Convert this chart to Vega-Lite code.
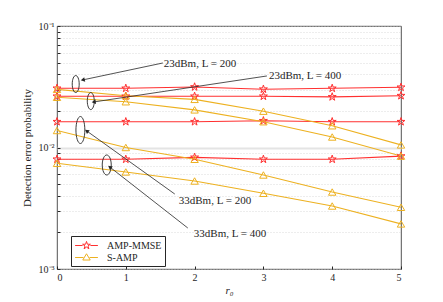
{
  "$schema": "https://vega.github.io/schema/vega-lite/v6.json",
  "width": 344,
  "height": 243,
  "autosize": {"type": "none"},
  "padding": {"left": 57, "top": 26, "right": 42, "bottom": 33},
  "config": {
    "font": "Liberation Serif",
    "view": {"stroke": "#262626", "strokeWidth": 0.8},
    "axis": {"labelFont": "Liberation Serif", "titleFont": "Liberation Serif", "labelColor": "#262626", "titleColor": "#262626", "domain": false, "tickColor": "#262626"},
    "legend": {"orient": "none", "legendX": 14, "legendY": 210, "title": null, "strokeColor": "#262626", "fillColor": "white", "padding": 3, "labelFont": "Liberation Serif", "labelFontSize": 10, "labelColor": "#262626", "symbolSize": 144, "symbolOffset": 6, "symbolStrokeWidth": 1, "rowPadding": 0, "labelOffset": 14}
  },
  "datasets": {
    "curves": [
      {"r0": 0, "p": 0.0307, "method": "AMP-MMSE", "series": "A1"},
      {"r0": 1, "p": 0.0307, "method": "AMP-MMSE", "series": "A1"},
      {"r0": 2, "p": 0.0315, "method": "AMP-MMSE", "series": "A1"},
      {"r0": 3, "p": 0.0302, "method": "AMP-MMSE", "series": "A1"},
      {"r0": 4, "p": 0.0307, "method": "AMP-MMSE", "series": "A1"},
      {"r0": 5, "p": 0.0313, "method": "AMP-MMSE", "series": "A1"},
      {"r0": 0, "p": 0.0264, "method": "AMP-MMSE", "series": "A2"},
      {"r0": 1, "p": 0.0264, "method": "AMP-MMSE", "series": "A2"},
      {"r0": 2, "p": 0.0264, "method": "AMP-MMSE", "series": "A2"},
      {"r0": 3, "p": 0.0264, "method": "AMP-MMSE", "series": "A2"},
      {"r0": 4, "p": 0.0261, "method": "AMP-MMSE", "series": "A2"},
      {"r0": 5, "p": 0.0267, "method": "AMP-MMSE", "series": "A2"},
      {"r0": 0, "p": 0.0163, "method": "AMP-MMSE", "series": "A3"},
      {"r0": 1, "p": 0.0163, "method": "AMP-MMSE", "series": "A3"},
      {"r0": 2, "p": 0.0163, "method": "AMP-MMSE", "series": "A3"},
      {"r0": 3, "p": 0.0166, "method": "AMP-MMSE", "series": "A3"},
      {"r0": 4, "p": 0.0163, "method": "AMP-MMSE", "series": "A3"},
      {"r0": 5, "p": 0.0163, "method": "AMP-MMSE", "series": "A3"},
      {"r0": 0, "p": 0.0080, "method": "AMP-MMSE", "series": "A4"},
      {"r0": 1, "p": 0.0080, "method": "AMP-MMSE", "series": "A4"},
      {"r0": 2, "p": 0.0083, "method": "AMP-MMSE", "series": "A4"},
      {"r0": 3, "p": 0.0080, "method": "AMP-MMSE", "series": "A4"},
      {"r0": 4, "p": 0.0080, "method": "AMP-MMSE", "series": "A4"},
      {"r0": 5, "p": 0.0085, "method": "AMP-MMSE", "series": "A4"},
      {"r0": 0, "p": 0.0301, "method": "S-AMP", "series": "S1"},
      {"r0": 1, "p": 0.0267, "method": "S-AMP", "series": "S1"},
      {"r0": 2, "p": 0.0249, "method": "S-AMP", "series": "S1"},
      {"r0": 3, "p": 0.0199, "method": "S-AMP", "series": "S1"},
      {"r0": 4, "p": 0.0151, "method": "S-AMP", "series": "S1"},
      {"r0": 5, "p": 0.0105, "method": "S-AMP", "series": "S1"},
      {"r0": 0, "p": 0.0259, "method": "S-AMP", "series": "S2"},
      {"r0": 1, "p": 0.0238, "method": "S-AMP", "series": "S2"},
      {"r0": 2, "p": 0.0204, "method": "S-AMP", "series": "S2"},
      {"r0": 3, "p": 0.0163, "method": "S-AMP", "series": "S2"},
      {"r0": 4, "p": 0.0122, "method": "S-AMP", "series": "S2"},
      {"r0": 5, "p": 0.0085, "method": "S-AMP", "series": "S2"},
      {"r0": 0, "p": 0.0138, "method": "S-AMP", "series": "S3"},
      {"r0": 1, "p": 0.0100, "method": "S-AMP", "series": "S3"},
      {"r0": 2, "p": 0.0080, "method": "S-AMP", "series": "S3"},
      {"r0": 3, "p": 0.00594, "method": "S-AMP", "series": "S3"},
      {"r0": 4, "p": 0.0043, "method": "S-AMP", "series": "S3"},
      {"r0": 5, "p": 0.00322, "method": "S-AMP", "series": "S3"},
      {"r0": 0, "p": 0.00741, "method": "S-AMP", "series": "S4"},
      {"r0": 1, "p": 0.00629, "method": "S-AMP", "series": "S4"},
      {"r0": 2, "p": 0.0053, "method": "S-AMP", "series": "S4"},
      {"r0": 3, "p": 0.0042, "method": "S-AMP", "series": "S4"},
      {"r0": 4, "p": 0.0033, "method": "S-AMP", "series": "S4"},
      {"r0": 5, "p": 0.00235, "method": "S-AMP", "series": "S4"}
    ],
    "labels": [
      {"label": "23dBm, L = 200", "r0": 1.552, "p": 0.0487},
      {"label": "23dBm, L = 400", "r0": 3.08, "p": 0.0388},
      {"label": "33dBm, L = 200", "r0": 1.77, "p": 0.00363},
      {"label": "33dBm, L = 400", "r0": 1.989, "p": 0.00194}
    ],
    "ellipses": [
      {"id": "E1", "kind": "small", "r0": 0.272, "p": 0.0333},
      {"id": "E2", "kind": "small", "r0": 0.491, "p": 0.0241},
      {"id": "E3", "kind": "large", "r0": 0.34, "p": 0.01393},
      {"id": "E4", "kind": "medium", "r0": 0.723, "p": 0.00718}
    ],
    "arrows": [
      {"id": "A1", "r0": 1.538, "p": 0.0496, "r0_end": 0.374, "p_end": 0.036},
      {"id": "A2", "r0": 3.051, "p": 0.0388, "r0_end": 0.534, "p_end": 0.0237},
      {"id": "A3", "r0": 1.712, "p": 0.00414, "r0_end": 0.432, "p_end": 0.01368},
      {"id": "A4", "r0": 1.901, "p": 0.002175, "r0_end": 0.767, "p_end": 0.00691}
    ]
  },
  "layer": [
    {
      "data": {"name": "curves"},
      "mark": {"type": "line", "strokeWidth": 1.1, "clip": true},
      "encoding": {
        "x": {"field": "r0", "type": "quantitative", "scale": {"domain": [0, 5], "nice": false, "zero": false},
          "axis": {"values": [0, 0.5, 1, 1.5, 2, 2.5, 3, 3.5, 4, 4.5, 5], "format": "~g", "grid": false, "tickSize": -3, "labelFontSize": 10, "labelPadding": 6, "title": "r₀", "titleFontSize": 11, "titleFontStyle": "italic", "titleFontWeight": "normal", "titlePadding": 2}},
        "y": {"field": "p", "type": "quantitative", "scale": {"type": "log", "domain": [0.001, 0.1], "nice": false},
          "axis": {"values": [0.001, 0.002, 0.003, 0.004, 0.005, 0.006, 0.007, 0.008, 0.009, 0.01, 0.02, 0.03, 0.04, 0.05, 0.06, 0.07, 0.08, 0.09, 0.1],
            "labelExpr": "datum.value == 0.1 ? '10⁻¹' : datum.value == 0.01 ? '10⁻²' : datum.value == 0.001 ? '10⁻³' : ''",
            "labelFontSize": 10, "labelPadding": 6, "tickSize": -3,
            "grid": true, "gridColor": {"condition": {"test": "datum.value == 0.01", "value": "#e4e4e4"}, "value": "#cccccc"},
            "gridDash": {"condition": {"test": "datum.value == 0.01", "value": []}, "value": [1, 2]},
            "gridWidth": {"condition": {"test": "datum.value == 0.01", "value": 2}, "value": 0.7},
            "title": "Detection error probability", "titleFontSize": 11, "titleFontWeight": "normal", "titlePadding": 6}},
        "color": {"field": "method", "type": "nominal", "scale": {"domain": ["AMP-MMSE", "S-AMP"], "range": ["#ff3030", "#edb120"]},
          "legend": {"encode": {"symbols": {"update": {"shape": {"signal": "datum.value == 'AMP-MMSE' ? 'M-1.9,0L-0.65,0M0.65,0L1.9,0M0,-0.68L0.153,-0.21L0.647,-0.21L0.247,0.08L0.4,0.55L0,0.26L-0.4,0.55L-0.247,0.08L-0.647,-0.21L-0.153,-0.21Z' : 'M-1.9,0L-0.5,0M0.5,0L1.9,0M0,-0.62L0.62,0.42L-0.62,0.42Z'"}, "fill": {"value": "transparent"}}}}}},
        "detail": {"field": "series"}
      }
    },
    {
      "data": {"name": "curves"},
      "transform": [{"filter": "datum.method == 'AMP-MMSE'"}],
      "mark": {"type": "point", "filled": false, "strokeWidth": 1, "size": 70, "opacity": 1, "color": "#ff3030", "shape": "M0,-1L0.2245,-0.309L0.951,-0.309L0.363,0.118L0.588,0.809L0,0.382L-0.588,0.809L-0.363,0.118L-0.951,-0.309L-0.2245,-0.309Z"},
      "encoding": {
        "x": {"field": "r0", "type": "quantitative"},
        "y": {"field": "p", "type": "quantitative"}
      }
    },
    {
      "data": {"name": "curves"},
      "transform": [{"filter": "datum.method == 'S-AMP'"}],
      "mark": {"type": "point", "filled": false, "strokeWidth": 1, "size": 55, "opacity": 1, "color": "#edb120", "shape": "triangle-up"},
      "encoding": {
        "x": {"field": "r0", "type": "quantitative"},
        "y": {"field": "p", "type": "quantitative"}
      }
    },
    {
      "data": {"name": "arrows"},
      "mark": {"type": "rule", "color": "#262626", "strokeWidth": 0.8},
      "encoding": {
        "x": {"field": "r0", "type": "quantitative"},
        "y": {"field": "p", "type": "quantitative"},
        "x2": {"field": "r0_end"},
        "y2": {"field": "p_end"}
      }
    },
    {
      "data": {"name": "arrows"},
      "transform": [{"filter": "datum.id == 'A1'"}],
      "mark": {"type": "point", "shape": "triangle-up", "filled": true, "color": "#262626", "size": 22, "angle": 258, "opacity": 1},
      "encoding": {"x": {"field": "r0_end", "type": "quantitative"}, "y": {"field": "p_end", "type": "quantitative"}}
    },
    {
      "data": {"name": "arrows"},
      "transform": [{"filter": "datum.id == 'A2'"}],
      "mark": {"type": "point", "shape": "triangle-up", "filled": true, "color": "#262626", "size": 22, "angle": 261.5, "opacity": 1},
      "encoding": {"x": {"field": "r0_end", "type": "quantitative"}, "y": {"field": "p_end", "type": "quantitative"}}
    },
    {
      "data": {"name": "arrows"},
      "transform": [{"filter": "datum.id == 'A3'"}],
      "mark": {"type": "point", "shape": "triangle-up", "filled": true, "color": "#262626", "size": 22, "angle": 305.6, "opacity": 1},
      "encoding": {"x": {"field": "r0_end", "type": "quantitative"}, "y": {"field": "p_end", "type": "quantitative"}}
    },
    {
      "data": {"name": "arrows"},
      "transform": [{"filter": "datum.id == 'A4'"}],
      "mark": {"type": "point", "shape": "triangle-up", "filled": true, "color": "#262626", "size": 22, "angle": 308, "opacity": 1},
      "encoding": {"x": {"field": "r0_end", "type": "quantitative"}, "y": {"field": "p_end", "type": "quantitative"}}
    },
    {
      "data": {"name": "ellipses"},
      "transform": [{"filter": "datum.kind == 'small'"}],
      "mark": {"type": "point", "shape": "M-0.41,0A0.41,1 0 1,0 0.41,0A0.41,1 0 1,0 -0.41,0Z", "filled": false, "color": "#262626", "strokeWidth": 0.9, "size": 289, "opacity": 1},
      "encoding": {"x": {"field": "r0", "type": "quantitative"}, "y": {"field": "p", "type": "quantitative"}}
    },
    {
      "data": {"name": "ellipses"},
      "transform": [{"filter": "datum.kind == 'large'"}],
      "mark": {"type": "point", "shape": "M-0.33,0A0.33,1 0 1,0 0.33,0A0.33,1 0 1,0 -0.33,0Z", "filled": false, "color": "#262626", "strokeWidth": 0.9, "size": 729, "opacity": 1},
      "encoding": {"x": {"field": "r0", "type": "quantitative"}, "y": {"field": "p", "type": "quantitative"}}
    },
    {
      "data": {"name": "ellipses"},
      "transform": [{"filter": "datum.kind == 'medium'"}],
      "mark": {"type": "point", "shape": "M-0.45,0A0.45,1 0 1,0 0.45,0A0.45,1 0 1,0 -0.45,0Z", "filled": false, "color": "#262626", "strokeWidth": 0.9, "size": 400, "opacity": 1},
      "encoding": {"x": {"field": "r0", "type": "quantitative"}, "y": {"field": "p", "type": "quantitative"}}
    },
    {
      "data": {"name": "labels"},
      "mark": {"type": "text", "align": "left", "baseline": "middle", "font": "Liberation Serif", "fontSize": 11, "color": "#262626"},
      "encoding": {"x": {"field": "r0", "type": "quantitative"}, "y": {"field": "p", "type": "quantitative"}, "text": {"field": "label"}}
    }
  ]
}
